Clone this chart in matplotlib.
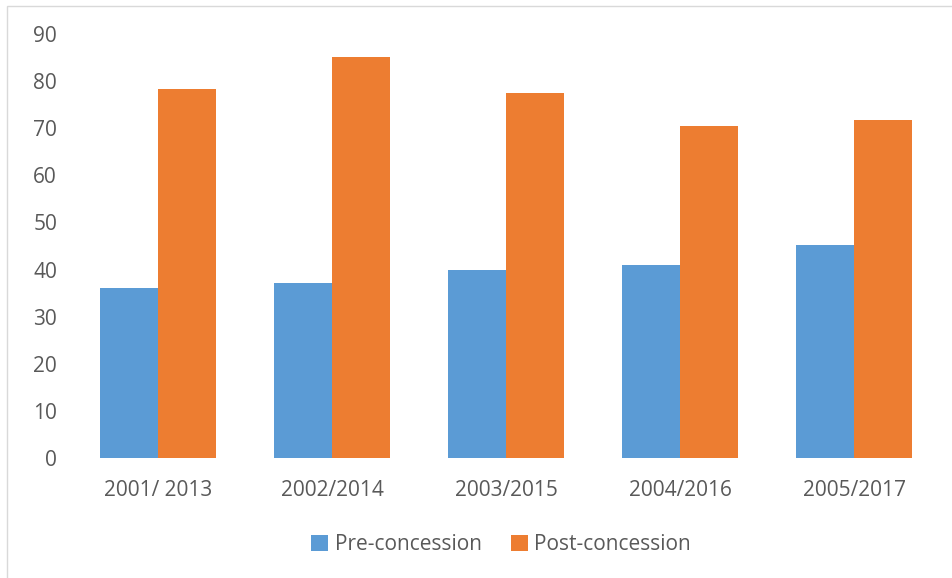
import matplotlib.pyplot as plt
import numpy as np
from matplotlib.patches import Rectangle

# Average values per period, before and after concession
periods = ["2001/ 2013", "2002/2014", "2003/2015", "2004/2016", "2005/2017"]
pre_concession = [36.1, 37.1, 40.0, 41.0, 45.2]
post_concession = [78.4, 85.2, 77.5, 70.5, 71.7]

BLUE = "#5B9BD5"
ORANGE = "#ED7D31"
TEXT = "#595959"
FS = 15

plt.rcParams["font.family"] = ["Open Sans", "DejaVu Sans"]

fig = plt.figure(figsize=(9.53, 5.78), dpi=100)
ax = fig.add_axes([71 / 953, 1 - 458 / 578, 870 / 953, 424 / 578])

x = np.arange(len(periods))
width = 1 / 3
ax.bar(x - width / 2, pre_concession, width, color=BLUE, label="Pre-concession")
ax.bar(x + width / 2, post_concession, width, color=ORANGE, label="Post-concession")

ax.set_xlim(-0.5, len(periods) - 0.5)
ax.set_ylim(0, 90)
ax.set_yticks(range(0, 91, 10))
ax.set_xticks(x)
ax.set_xticklabels(periods)

for spine in ax.spines.values():
    spine.set_visible(False)
ax.tick_params(axis="both", length=0, colors=TEXT, labelsize=FS)
ax.tick_params(axis="y", pad=10)
ax.tick_params(axis="x", pad=16)

leg = fig.legend(
    loc="center",
    bbox_to_anchor=(501 / 953, 1 - 545 / 578),
    ncol=2,
    frameon=False,
    fontsize=FS,
    handlelength=0.82,
    handleheight=0.82,
    handletextpad=0.3,
    columnspacing=1.4,
)
for t in leg.get_texts():
    t.set_color(TEXT)

# thin chart-area outline
fig.add_artist(Rectangle(
    (7 / 953, -0.1), 1.2, 1 - 6 / 578 + 0.1,
    transform=fig.transFigure, fill=False, edgecolor="#D9D9D9", linewidth=1.0,
))

fig.savefig("out.png", dpi=100)
